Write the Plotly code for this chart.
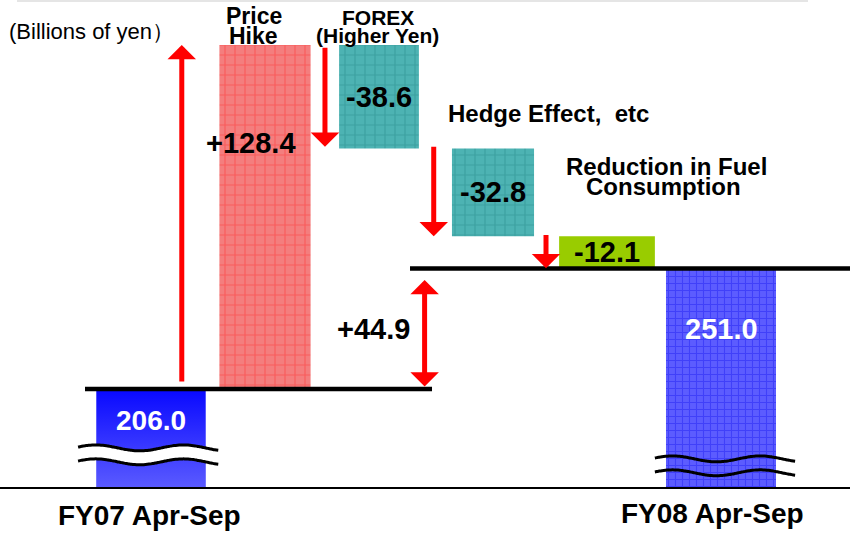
import numpy as np
import plotly.graph_objects as go

# ---- data (billions of yen) ----
categories = ["FY07 Apr-Sep", "Price Hike", "FOREX (Higher Yen)",
              "Hedge Effect, etc", "Reduction in Fuel Consumption", "FY08 Apr-Sep"]
start_total = 206.0
changes = [128.4, -38.6, -32.8, -12.1]
end_total = 251.0
net_change = 44.9
total_labels = ["206.0", "251.0"]
change_labels = ["+128.4", "-38.6", "-32.8", "-12.1"]
net_label = "+44.9"

# ---- layout helpers ----
W, H = 850, 533
MB = 46                      # bottom margin (room for period labels)
PH = H - MB                  # plot height in px
X_RANGE = [-1.3246, 6.1316]
Y_RANGE = [169.4, 351.2]
FONT = "Liberation Sans, Arial, sans-serif"


def px(x):
    return x / W


def py(y):
    return 1 - y / PH


idx = np.arange(len(categories))
levels = np.concatenate([[start_total], start_total + np.cumsum(changes)])

fig = go.Figure()

# start and end totals (bars rise from 0; the axis is cut below)
fig.add_trace(go.Bar(
    x=[idx[0]], y=[start_total], width=0.956,
    marker=dict(color="#2f2fff", line=dict(width=0)),
    hoverinfo="skip", showlegend=False))

# vertical gradient for the starting total
w0 = 0.956 / 2
fig.add_trace(go.Scatter(
    x=[idx[0] - w0, idx[0] + w0, idx[0] + w0, idx[0] - w0, idx[0] - w0],
    y=[Y_RANGE[0], Y_RANGE[0], start_total, start_total, Y_RANGE[0]],
    mode="lines", line=dict(width=0), fill="toself",
    fillgradient=dict(type="vertical",
                      colorscale=[[0, "#5a5aff"], [1, "#0808ff"]]),
    hoverinfo="skip", showlegend=False))

fig.add_trace(go.Bar(
    x=[idx[-1]], y=[end_total], width=0.965,
    marker=dict(color="#4848ff", line=dict(width=0),
                pattern=dict(shape="+", size=7, solidity=0.3,
                             fgcolor="#2424f4", bgcolor="#5c5cff")),
    hoverinfo="skip", showlegend=False))

# change bars
change_styles = [
    dict(width=0.80, pattern=dict(shape="+", size=10, solidity=0.22,
                                  fgcolor="#ff3a3a", bgcolor="#f47e7e")),
    dict(width=0.70, pattern=dict(shape="+", size=10, solidity=0.22,
                                  fgcolor="#2b8e8e", bgcolor="#4db3b3")),
    dict(width=0.72, pattern=dict(shape="+", size=10, solidity=0.22,
                                  fgcolor="#2b8e8e", bgcolor="#4db3b3")),
    dict(width=0.84, color="#99cc00"),
]
for i, (d, st) in enumerate(zip(changes, change_styles)):
    marker = dict(line=dict(width=0))
    if "pattern" in st:
        marker["color"] = st["pattern"]["bgcolor"]
        marker["pattern"] = st["pattern"]
    else:
        marker["color"] = st["color"]
    fig.add_trace(go.Bar(
        x=[idx[i + 1]], y=[d], base=[levels[i]], width=st["width"],
        marker=marker, hoverinfo="skip", showlegend=False))


# axis-break marks (wavy lines)
def wave(x0, x1, y0, n=80):
    t = np.linspace(0, 1, n)
    return x0 + (x1 - x0) * t, y0 + 1.1 * np.sin(2 * np.pi * 1.6 * t + 0.3)


for (x0, x1, y_lo, y_hi, fill_white) in [(-0.64, 0.59, 178.8, 184.0, True),
                                         (4.42, 5.65, 174.7, 179.9, False)]:
    xs, ys = wave(x0, x1, y_lo)
    xs2, ys2 = wave(x0, x1, y_hi)
    fig.add_trace(go.Scatter(x=xs, y=ys, mode="lines",
                             line=dict(color="black", width=3, shape="spline"),
                             hoverinfo="skip", showlegend=False))
    fig.add_trace(go.Scatter(x=xs2, y=ys2, mode="lines",
                             line=dict(color="black", width=3, shape="spline"),
                             fill="tonexty" if fill_white else "none",
                             fillcolor="white",
                             hoverinfo="skip", showlegend=False))

shapes = [
    # level lines for the two totals
    dict(type="line", xref="x", yref="y", x0=-0.579, x1=2.465,
         y0=start_total, y1=start_total, line=dict(color="black", width=4.5)),
    dict(type="line", xref="x", yref="y", x0=2.272, x1=X_RANGE[1],
         y0=end_total, y1=end_total, line=dict(color="black", width=4.5)),
    # thin rule along the top
    dict(type="line", xref="paper", yref="paper", x0=px(17), x1=px(808),
         y0=py(1), y1=py(1), line=dict(color="#dcdcdc", width=1.5)),
]

annotations = []


def arrow(x, y_head, y_tail, both=False):
    a = dict(x=x, y=y_head, ax=x, ay=y_tail, xref="x", yref="y",
             axref="x", ayref="y", text="", showarrow=True,
             arrowcolor="#ff0000", arrowwidth=5, arrowhead=1, arrowsize=0.95,
             standoff=0, startstandoff=0)
    if both:
        a.update(arrowside="end+start", startarrowhead=1, startarrowsize=0.95)
    annotations.append(a)


# change arrows
arrow(0.27, levels[1], start_total + 2.2)
arrow(1.526, levels[2] + 0.6, levels[1] - 0.5)
arrow(2.48, levels[3], levels[2] + 1.2)
arrow(3.465, levels[4] + 0.2, levels[3] + 1.0)
# net change between the totals
arrow(2.40, start_total + net_change - 4.2, start_total + 0.4, both=True)


def label(text, x, y, size, color="black", xref="paper", yref="paper",
          xanchor="center", weight="bold", yanchor="middle"):
    annotations.append(dict(text=text, x=x, y=y, xref=xref, yref=yref,
                            xanchor=xanchor, yanchor=yanchor, showarrow=False,
                            borderpad=0,
                            font=dict(family=FONT, size=size, color=color,
                                      weight=weight)))


# value labels on the bars
label(total_labels[0], idx[0], start_total - 11.6, 28, "white", "x", "y")
label(total_labels[1], idx[-1], end_total - 22.5, 29, "white", "x", "y")
label(change_labels[0], idx[1] - 0.12, levels[0] + 0.715 * changes[0], 29,
      xref="x", yref="y")
for i in range(1, 4):
    label(change_labels[i], idx[i + 1], levels[i] + changes[i] / 2, 29,
          xref="x", yref="y")
label(net_label, 2.28, start_total + net_change / 2, 29, xref="x", yref="y",
      xanchor="right")

# category headings
label("Price", px(254), py(16), 23)
label("Hike", px(253), py(36), 23)
label("FOREX", px(378), py(17), 21)
label("(Higher Yen)", px(377), py(36), 21)
label("Hedge Effect,  etc", px(548), py(113), 24)
label("Reduction in Fuel", px(666), py(166), 24)
label("Consumption", px(663), py(186), 24)
label("(Billions of yen\uff09", px(8), py(32), 22, xanchor="left",
      weight="normal")

# period labels under the axis
label(categories[0], px(149), py(532), 28, yanchor="bottom")
label(categories[-1], px(712), py(530), 28, yanchor="bottom")

fig.update_layout(
    width=W, height=H,
    margin=dict(l=0, r=0, t=0, b=MB),
    paper_bgcolor="white", plot_bgcolor="white",
    barmode="overlay",
    shapes=shapes, annotations=annotations,
    xaxis=dict(range=X_RANGE, showticklabels=False, showgrid=False,
               zeroline=False, showline=True, linecolor="black",
               linewidth=1.5, ticks="", layer="below traces", fixedrange=True),
    yaxis=dict(range=Y_RANGE, visible=False, showgrid=False, fixedrange=True),
)

fig.write_html("out.html")
